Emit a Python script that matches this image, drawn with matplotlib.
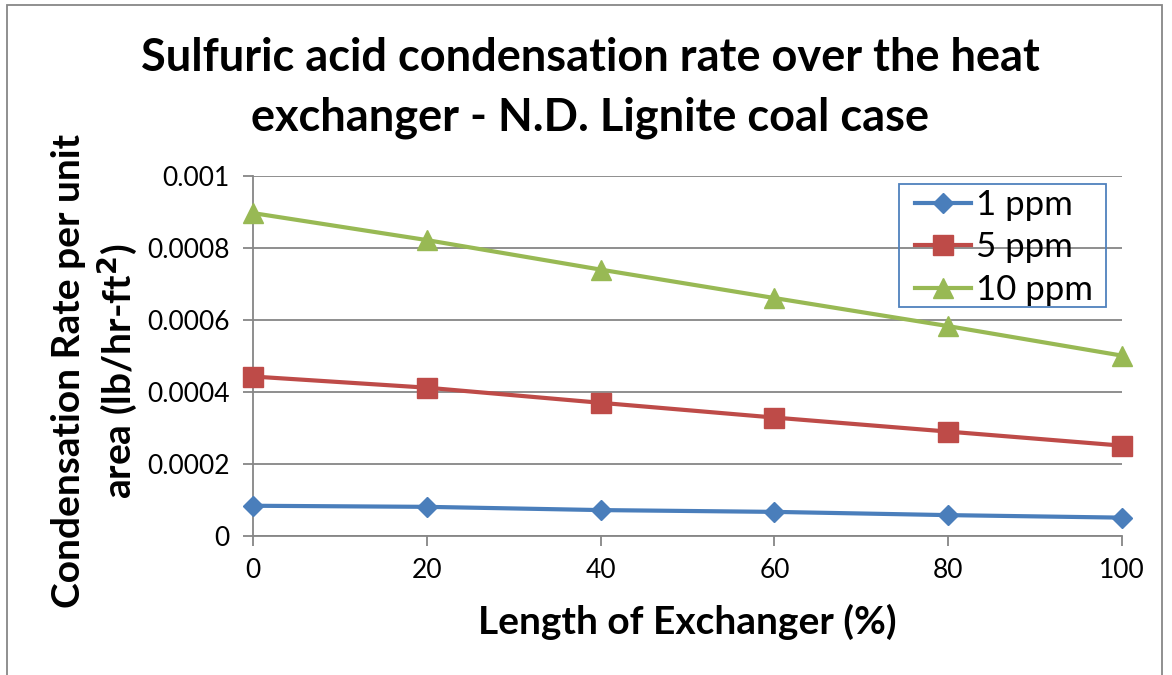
import matplotlib.pyplot as plt
from matplotlib.patches import Rectangle

# data
length_pct = [0, 20, 40, 60, 80, 100]
rate_1ppm = [0.000084, 0.000081, 0.000072, 0.000067, 0.000058, 0.000051]
rate_5ppm = [0.000443, 0.000412, 0.000370, 0.000329, 0.000290, 0.000251]
rate_10ppm = [0.000897, 0.000822, 0.000740, 0.000661, 0.000583, 0.000501]
series_names = ["1 ppm", "5 ppm", "10 ppm"]
y_ticks = [0, 0.0002, 0.0004, 0.0006, 0.0008, 0.001]
y_tick_labels = ["0", "0.0002", "0.0004", "0.0006", "0.0008", "0.001"]
x_ticks = [0, 20, 40, 60, 80, 100]

W, H = 1172, 675
plt.rcParams['font.family'] = ['Lato', 'DejaVu Sans']
grey = '#868686'

fig = plt.figure(figsize=(W / 100, H / 100), dpi=100)
ax = fig.add_axes([253 / W, 1 - 536 / H, (1122 - 253) / W, (536 - 176) / H])

ax.plot(length_pct, rate_1ppm, color='#4A7EBB', lw=3, marker='D', ms=10.5,
        label=series_names[0], clip_on=False, zorder=3)
ax.plot(length_pct, rate_5ppm, color='#BE4B48', lw=3, marker='s', ms=14.5,
        label=series_names[1], clip_on=False, zorder=3)
ax.plot(length_pct, rate_10ppm, color='#98B954', lw=3, marker='^', ms=14.5,
        label=series_names[2], clip_on=False, zorder=3)

ax.set_xlim(0, 100)
ax.set_ylim(0, 0.001)
ax.set_xticks(x_ticks)
ax.set_yticks(y_ticks)
ax.set_yticklabels(y_tick_labels)
ax.tick_params(axis='both', colors=grey, labelcolor='black', labelsize=19,
               length=7, width=1.3, direction='out')
ax.tick_params(axis='x', pad=9)
ax.tick_params(axis='y', pad=10)
ax.yaxis.grid(True, color=grey, lw=1.3)
ax.set_axisbelow(True)
for side in ['top', 'right']:
    ax.spines[side].set_visible(False)
for side in ['left', 'bottom']:
    ax.spines[side].set_color(grey)
    ax.spines[side].set_linewidth(1.3)

fig.text(590 / W, 1 - 88 / H,
         "Sulfuric acid condensation rate over the heat\nexchanger - N.D. Lignite coal case",
         ha='center', va='center', fontsize=32.5, fontweight='bold', linespacing=1.5)
fig.text(687 / W, 1 - 622 / H, "Length of Exchanger (%)", ha='center', va='center',
         fontsize=28, fontweight='bold')
fig.text(95 / W, 1 - 371 / H, "Condensation Rate per unit\narea (lb/hr-ft$^\\mathbf{2}$)",
         ha='center', va='center', rotation=90, fontsize=28, fontweight='bold',
         linespacing=1.2)

# legend entries without their own frame; the box is drawn separately
leg = ax.legend(loc='upper left', bbox_to_anchor=(915 / W, 1 - 189 / H),
                bbox_transform=fig.transFigure, fontsize=25, frameon=False,
                handlelength=1.6, handletextpad=0.15,
                labelspacing=0.3, borderpad=0, borderaxespad=0)
fig.patches.append(Rectangle((899 / W, 1 - 307 / H), (1106 - 899) / W, (307 - 184) / H,
                             transform=fig.transFigure, fill=False,
                             edgecolor='#4F81BD', lw=1.3, zorder=5))

fig.patches.append(Rectangle((7 / W, -0.05), (1162 - 7) / W, 1.05 - 5 / H,
                             transform=fig.transFigure, fill=False,
                             edgecolor='#878787', lw=1.3))

fig.savefig("out.png", dpi=100)
